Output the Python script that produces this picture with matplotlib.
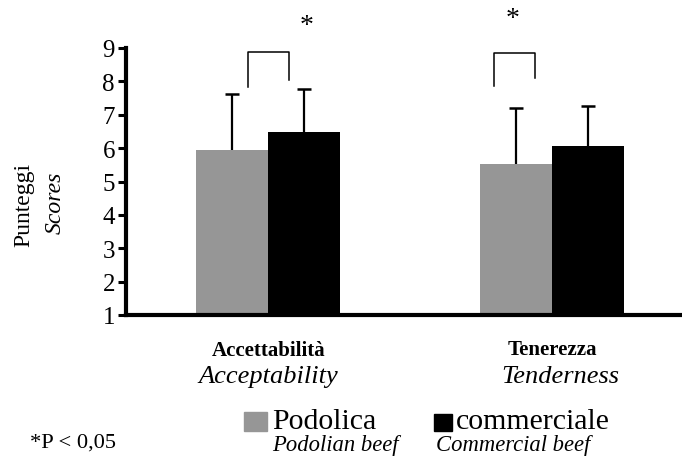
import numpy as np
import matplotlib.pyplot as plt
from matplotlib.patches import Rectangle

# Mean scores (bars start at 1) and upper SD
groups = ['Accettabilità', 'Tenerezza']
groups_en = ['Acceptability', 'Tenderness']
podolica = [5.95, 5.52]
podolica_sd = [1.68, 1.68]
commerciale = [6.48, 6.06]
commerciale_sd = [1.30, 1.20]
y_ticks = [1, 2, 3, 4, 5, 6, 7, 8, 9]

GRAY = '#969696'
FONT = 'Liberation Serif'
plt.rcParams['font.family'] = FONT

W, H = 682, 464
fig = plt.figure(figsize=(W / 100, H / 100), dpi=100)
ax = fig.add_axes([126 / W, 1 - 316 / H, 1 - 126 / W, (316 - 49) / H])

x = np.arange(len(groups))
bw = 0.2535
base = 1
ax.bar(x - bw / 2, np.array(podolica) - base, bw, bottom=base, color=GRAY, zorder=2)
ax.bar(x + bw / 2, np.array(commerciale) - base, bw, bottom=base, color='black', zorder=2)
for xs, vals, sd in [(x - bw / 2, podolica, podolica_sd), (x + bw / 2, commerciale, commerciale_sd)]:
    eb = ax.errorbar(xs, vals, yerr=[np.zeros(2), sd], fmt='none', ecolor='black',
                     elinewidth=1.6, capsize=5, capthick=1.8, zorder=3)
    # only the upper cap
    eb[1][0].set_visible(False)

# significance brackets
brackets = [(-0.070, 0.074, 8.88, 7.83, 8.04), (0.796, 0.940, 8.85, 7.86, 8.10)]
for x0, x1, top, b0, b1 in brackets:
    ax.plot([x0, x0, x1, x1], [b0, top, top, b1], color='black', lw=1.1, clip_on=False)
stars = [(0.137, 9.66), (0.863, 9.88)]
for sx, sy in stars:
    ax.text(sx, sy, '*', ha='center', va='center', fontsize=20, clip_on=False)

ax.set_xlim(-0.5, 1.458)
ax.set_ylim(1, 9)
ax.set_yticks(y_ticks)
ax.set_xticks([])
ax.tick_params(axis='y', direction='out', length=6, width=2.2, labelsize=18, pad=2)
for s in ['top', 'right']:
    ax.spines[s].set_visible(False)
ax.spines['left'].set_linewidth(3)
ax.spines['bottom'].set_linewidth(3)

# y label
fig.text(24 / W, 1 - 205 / H, 'Punteggi', rotation=90, ha='center', va='center', fontsize=17)
fig.text(55 / W, 1 - 203 / H, 'Scores', rotation=90, ha='center', va='center', fontsize=17,
         style='italic')

# group labels
lab_pos = [(269, 351, 268, 377), (552, 350, 560, 377)]
for (bx, by, ix, iy), it, en in zip(lab_pos, groups, groups_en):
    fig.text(bx / W, 1 - by / H, it, ha='center', va='center', fontsize=15, weight='bold')
    fig.text(ix / W, 1 - iy / H, en, ha='center', va='center', fontsize=19, style='italic')

# legend
fig.add_artist(Rectangle((244 / W, 1 - 432 / H), 23 / W, 19 / H, color=GRAY,
                         transform=fig.transFigure))
fig.add_artist(Rectangle((434 / W, 1 - 432 / H), 18 / W, 17 / H, color='black',
                         transform=fig.transFigure))
fig.text(272 / W, 1 - 422 / H, 'Podolica', ha='left', va='center', fontsize=21.5)
fig.text(456 / W, 1 - 422 / H, 'commerciale', ha='left', va='center', fontsize=21.5)
fig.text(272 / W, 1 - 446 / H, 'Podolian beef', ha='left', va='center', fontsize=16.3,
         style='italic')
fig.text(436 / W, 1 - 446 / H, 'Commercial beef', ha='left', va='center', fontsize=16.3,
         style='italic')
fig.text(30 / W, 1 - 443 / H, '*P < 0,05', ha='left', va='center', fontsize=16.2)

fig.savefig('out.png', dpi=100)
